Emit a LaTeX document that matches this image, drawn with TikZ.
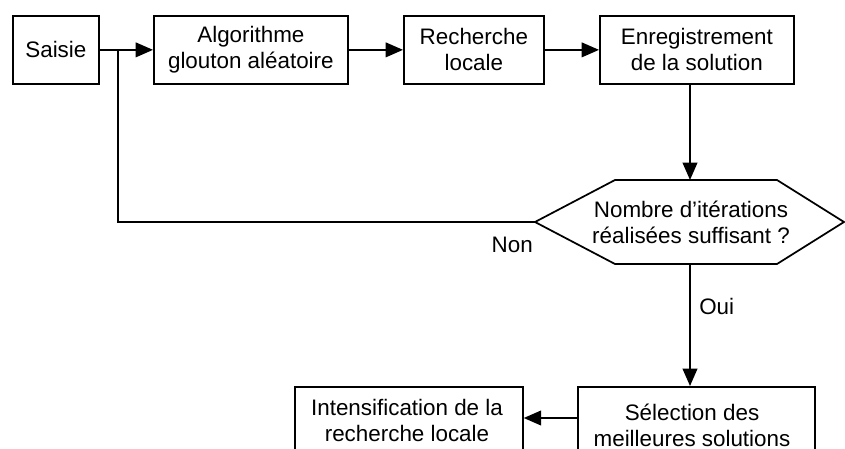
\documentclass[tikz,border=0pt]{standalone}
\usepackage{fontspec}
\setmainfont{Liberation Sans}
\usetikzlibrary{arrows.meta}
\tikzset{
  x=0.75pt, y=-0.75pt,
  lbl/.style={font={\fontsize{16.8}{19.5}\selectfont}, align=center, inner sep=0pt},
  boxshape/.style={draw, line width=1.3pt, rectangle, inner sep=0pt, anchor=north west},
  conn/.style={line width=1.3pt, -{Triangle[length=13pt,width=11pt]}},
  plain/.style={line width=1.3pt},
}
\begin{document}
\begin{tikzpicture}
\useasboundingbox (0,0) rectangle (845,449);
\clip (0,0) rectangle (845,449);
% top row boxes
\node[boxshape, minimum width=86*0.75pt, minimum height=68*0.75pt] (saisie) at (12,15) {};
\node[lbl] at (saisie.center) {Saisie};
\node[boxshape, minimum width=194*0.75pt, minimum height=68*0.75pt] (algo) at (153,15) {};
\node[lbl] at (algo.center) {Algorithme\\glouton aléatoire};
\node[boxshape, minimum width=140*0.75pt, minimum height=68*0.75pt] (rech) at (403,15) {};
\node[lbl] at (rech.center) {Recherche\\locale};
\node[boxshape, minimum width=194*0.75pt, minimum height=68*0.75pt] (enr) at (599,15) {};
\node[lbl] at (enr.center) {Enregistrement\\de la solution};
% decision hexagon
\coordinate (decL) at (535,222);
\coordinate (decTL) at (615,180);
\coordinate (decT) at (690,180);
\coordinate (decTR) at (777,180);
\coordinate (decR) at (844,222);
\coordinate (decBR) at (777,264);
\coordinate (decB) at (690,264);
\coordinate (decBL) at (615,264);
\draw[plain, line join=miter] (decL) -- (decTL) -- (decTR) -- (decR) -- (decBR) -- (decBL) -- cycle;
\node[lbl] (dec) at (691,222) {Nombre d’itérations\\réalisées suffisant ?};
% bottom boxes (cut by the frame)
\node[boxshape, minimum width=237*0.75pt, minimum height=80*0.75pt] (sel) at (577,386) {};
\node[lbl] at (692,425) {Sélection des\\meilleures solutions};
\node[boxshape, minimum width=228*0.75pt, minimum height=80*0.75pt] (intens) at (294,386) {};
\node[lbl] at (407,420) {Intensification de la\\recherche locale};
% connectors
\coordinate (J) at (118,49);
\draw[conn] (saisie.east) -- (algo.west);
\draw[conn] (algo.east) -- (rech.west);
\draw[conn] (rech.east) -- (enr.west);
\draw[conn] (enr.south -| decT) -- (decT);
\draw[plain] (decL) -| (J);
\draw[conn] (decB) -- (sel.north -| decB);
\draw[conn] (sel.west |- 0,418) -- (intens.east |- 0,418);
% labels
\node[lbl, anchor=east] (non) at (533,245) {Non};
\node[lbl, anchor=west] (oui) at (699,306) {Oui};
\end{tikzpicture}
\end{document}
